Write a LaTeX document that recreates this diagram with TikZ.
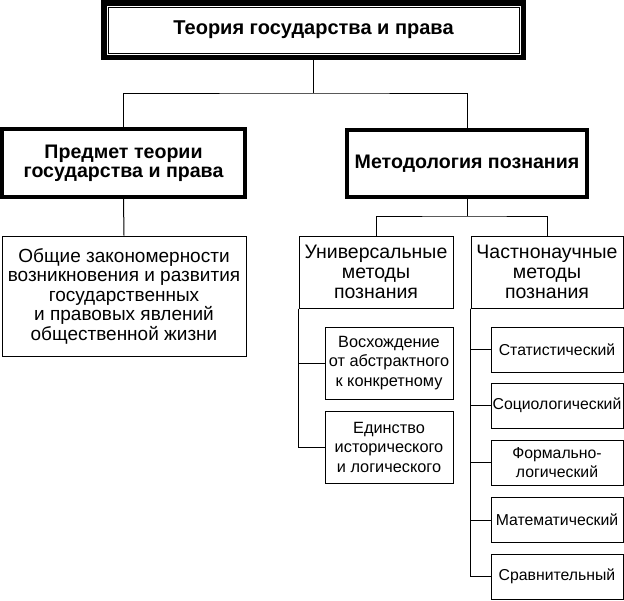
\documentclass[tikz,border=0pt]{standalone}
\usepackage{fontspec}
\setmainfont{Liberation Sans}
\usepackage{tikz}

\begin{document}
\begin{tikzpicture}[x=1pt, y=-1pt, line width=1pt,
  box/.style={draw, inner sep=0pt, align=center},
  bigbox/.style={box, line width=4pt, font=\bfseries\fontsize{19.6}{19}\selectfont},
  midbox/.style={box, minimum height=72pt, font=\fontsize{19.5}{20}\selectfont},
  smallbox/.style={box, minimum width=128pt, minimum height=72pt, font=\fontsize{16.3}{19.5}\selectfont},
  kindbox/.style={box, minimum width=132pt, minimum height=45pt, font=\fontsize{15.8}{18.5}\selectfont}]
  \useasboundingbox (0,0) rectangle (624,600);
  % title with double frame
  \node[box, minimum width=411pt, minimum height=46pt, font=\bfseries\fontsize{20}{22}\selectfont] (title) at (313.5,30) {Теория государства и права};
  \node[draw, line width=5.5pt, minimum width=419.5pt, minimum height=54.5pt, inner sep=0pt] (frame) at (313.5,30) {};
  % second level
  \node[bigbox, minimum width=243pt, minimum height=68pt] (subject) at (123.5,163) {Предмет теории\\государства и права};
  \node[bigbox, minimum width=240pt, minimum height=67pt] (method) at (467,163.5) {Методология познания};
  \node[box, minimum width=244pt, minimum height=120pt, font=\fontsize{19}{19.5}\selectfont] (laws) at (124,296)
    {Общие закономерности\\возникновения и развития\\государственных\\и правовых явлений\\общественной жизни};
  \node[midbox, minimum width=154pt] (univ) at (376,272) {Универсальные\\методы\\познания};
  \node[midbox, minimum width=152pt] (spec) at (547,272) {Частнонаучные\\методы\\познания};
  % universal methods
  \node[smallbox] (ascent) at (389,363) {Восхождение\\от абстрактного\\к конкретному};
  \node[smallbox] (unity) at (389,447) {Единство\\исторического\\и логического};
  % special methods
  \node[kindbox] (stat) at (557,349.5) {Статистический};
  \node[kindbox] (soc) at (557,405.5) {Социологический};
  \node[kindbox] (form) at (557,462.5) {Формально-\\логический};
  \node[kindbox] (math) at (557,520) {Математический};
  \node[kindbox] (comp) at (557,576.5) {Сравнительный};
  % connectors
  \coordinate (split1) at (313.5,93);
  \coordinate (split2) at (467,216);
  \draw (frame.south) -- (split1);
  \draw (subject.north) |- (split1) -| (method.north);
  \draw (subject.south) -- (laws.north);
  \draw (method.south) -- (split2);
  \draw (univ.north) |- (split2) -| (spec.north);
  \foreach \n in {ascent, unity}
    \draw (univ.south west) |- (\n.west);
  \foreach \n in {stat, soc, form, math, comp}
    \draw (spec.south west) |- (\n.west);
\end{tikzpicture}
\end{document}
